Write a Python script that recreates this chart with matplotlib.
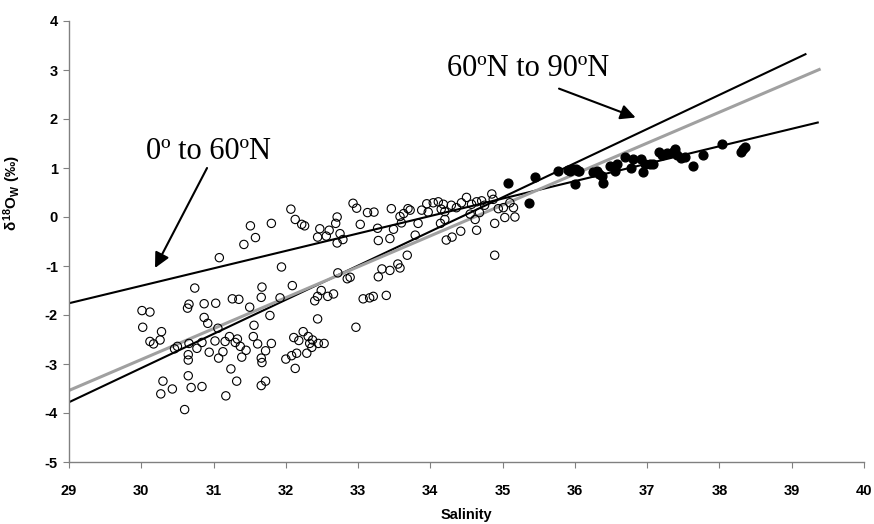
"""
Salinity vs d18O of seawater, 0-60N (open) and 60-90N (filled) with fit lines.
"""

import numpy as np
import matplotlib
matplotlib.use("Agg")
import matplotlib.pyplot as plt

# open circles, 0 to 60N
sal_low = [
    31.08, 31.42, 31.58, 31.51, 31.80, 32.07, 32.13, 32.22, 32.26, 32.47, 32.44, 32.56,
    31.94, 30.74, 31.67, 32.09, 32.49,
    30.01, 30.12, 30.02, 30.12, 30.17, 30.26, 30.28, 30.30, 30.27, 30.43, 30.60, 30.64,
    30.66, 30.87, 31.03, 31.26, 31.35, 31.66, 31.92, 31.50, 31.78, 30.87, 30.92, 31.06,
    30.46, 30.50, 30.66, 30.65, 30.65, 30.77, 30.84, 30.94, 31.02, 31.13, 31.07, 31.16,
    31.22, 31.30, 31.33, 31.37, 31.45, 31.39, 31.55, 31.56, 31.61, 31.80, 31.72, 31.66,
    31.67, 31.24, 30.65, 30.69, 30.84, 31.32, 31.17, 31.66, 31.72, 32.00, 32.08, 32.15,
    32.13, 32.11, 32.18, 32.24, 32.31, 32.33, 32.37, 32.29, 32.36, 32.45, 32.53, 32.40,
    32.44, 32.44, 32.58, 32.66, 32.72, 32.85, 32.89, 32.60,
    33.07, 33.16, 33.21, 33.39, 32.97,
    32.93, 32.98, 33.13, 33.22, 33.46, 32.71, 32.69, 32.75, 32.79, 32.71, 33.03, 33.27,
    33.28, 33.44, 33.49, 33.58, 33.63, 33.69, 33.72, 33.60, 33.83, 33.79, 33.68, 33.55,
    33.58, 33.44, 33.33, 33.28, 33.88, 33.95, 33.97, 34.04, 34.11, 34.18, 34.15, 34.20,
    34.14, 34.20, 34.30, 34.22, 34.42, 34.64, 34.29, 34.36, 34.43, 34.50, 34.57, 34.64,
    34.71, 34.75, 34.55, 34.62, 34.68, 34.85, 34.87, 34.94, 34.89, 35.03, 35.17, 34.89,
    35.01, 35.10, 35.15,
]
d18o_low = [
    -0.83, -0.56, -0.42, -0.18, -0.13, 0.16, -0.05, -0.15, -0.18, -0.24, -0.41, -0.39,
    -1.02, -1.45, -1.43, -1.40, -1.50,
    -1.91, -1.94, -2.25, -2.54, -2.59, -2.51, -2.34, -3.35, -3.61, -3.51, -3.93, -1.86,
    -1.78, -1.77, -1.76, -1.67, -1.68, -1.64, -1.65, -1.84, -2.01, -2.05, -2.17, -2.27,
    -2.69, -2.64, -2.58, -2.81, -2.92, -2.68, -2.56, -2.76, -2.53, -2.75, -2.88, -2.54,
    -2.44, -2.56, -2.49, -2.64, -2.72, -2.86, -2.44, -2.21, -2.59, -2.58, -2.73, -2.88,
    -2.97, -3.10, -3.24, -3.48, -3.46, -3.35, -3.65, -3.44, -3.35, -2.90, -2.83, -2.78,
    -3.09, -2.46, -2.52, -2.34, -2.44, -2.58, -2.51, -2.78, -2.66, -2.58, -2.58, -1.71,
    -1.62, -2.08, -1.62, -1.57, -1.14, -1.26, -1.23, -0.27,
    -1.67, -1.65, -1.62, -1.60, -2.25,
    0.28, 0.18, 0.09, 0.10, 0.17, 0.00, -0.13, -0.34, -0.46, -0.53, -0.15, -0.23,
    -0.48, -0.44, -0.25, 0.01, 0.07, 0.17, 0.14, -0.12, -0.13, -0.37, -0.78, -0.96,
    -1.04, -1.09, -1.06, -1.22, 0.14, 0.27, 0.10, 0.29, 0.31, 0.26, 0.16, 0.11,
    -0.13, -0.05, -0.41, -0.47, -0.29, -0.27, 0.24, 0.19, 0.29, 0.40, 0.26, 0.31,
    0.33, 0.24, 0.06, -0.05, 0.09, 0.47, 0.36, 0.17, -0.13, -0.01, 0.00, -0.78,
    0.19, 0.29, 0.19,
]

# filled circles, 60 to 90N
sal_high = [
    35.08, 35.37, 35.45, 35.77, 35.91, 35.93, 35.98, 36.02, 36.04, 36.06, 36.00, 36.25,
    36.30, 36.34, 36.37, 36.39, 36.48, 36.55, 36.55, 36.58, 36.69, 36.78, 36.80, 36.92,
    36.97, 36.94, 37.04, 37.08, 37.17, 37.20, 37.27, 37.36, 37.38, 37.41, 37.47, 37.52,
    37.63, 37.77, 38.03, 38.30, 38.33, 38.36,
]
d18o_high = [
    0.69, 0.29, 0.82, 0.93, 0.96, 0.93, 0.98, 0.98, 0.94, 0.94, 0.68, 0.91,
    0.94, 0.88, 0.84, 0.70, 1.05, 0.94, 1.02, 1.08, 1.22, 1.01, 1.18, 1.18,
    1.08, 0.91, 1.08, 1.09, 1.32, 1.27, 1.30, 1.32, 1.39, 1.27, 1.20, 1.23,
    1.05, 1.27, 1.50, 1.32, 1.39, 1.43,
]

# regression lines: slope, intercept, salinity range
fit_slope = [0.356, 0.697, 0.631]
fit_icept = [-12.084, -23.993, -21.839]
fit_xmax = [39.36, 39.19, 39.38]
fit_color = ["black", "black", "#a0a0a0"]
fit_width = [1.5, 1.5, 2.2]

plt.rcParams["font.family"] = ["Liberation Sans", "DejaVu Sans"]
plt.rcParams["font.weight"] = "bold"
plt.rcParams["axes.unicode_minus"] = False
plt.rcParams["mathtext.fontset"] = "custom"
plt.rcParams["mathtext.rm"] = "Liberation Sans:bold"
plt.rcParams["mathtext.it"] = "Liberation Sans:bold"
plt.rcParams["mathtext.bf"] = "Liberation Sans:bold"

fig = plt.figure(figsize=(8.74, 5.24), dpi=100)
ax = fig.add_axes([69 / 874, 62 / 524, 795 / 874, 441 / 524])

for slope, icept, xmax, col, lw in zip(fit_slope, fit_icept, fit_xmax, fit_color, fit_width):
    xs = np.array([29.0, xmax])
    ax.plot(xs, slope * xs + icept, color=col, lw=lw, zorder=2)

ax.scatter(sal_low, d18o_low, s=36, facecolors="none", edgecolors="black",
           linewidths=0.8, zorder=3)
ax.scatter(sal_high, d18o_high, s=40, color="black", zorder=3)

ax.set_xlim(29, 40)
ax.set_ylim(-5, 4)
ax.set_xticks(range(29, 41))
ax.set_yticks(range(-5, 5))
for side in ["top", "right"]:
    ax.spines[side].set_visible(False)
for side in ["left", "bottom"]:
    ax.spines[side].set_color("#808080")
    ax.spines[side].set_linewidth(1.0)
ax.tick_params(direction="out", length=4, color="#808080", labelsize=10.5, pad=4)
ax.tick_params(axis="x", pad=12)

ax.set_xlabel("Salinity", fontsize=10.5, fontweight="bold")
ax.xaxis.set_label_coords(0.5, -0.105)
ax.set_ylabel(r"$\delta^{18}$O$_W$ (‰)", fontsize=11, fontweight="bold")
ax.yaxis.set_label_coords(-0.058, 0.61)

serif = ["Liberation Serif", "DejaVu Serif"]
head = "-|>,head_length=0.9,head_width=0.45"
ax.annotate("", xy=(30.19, -1.04), xytext=(30.91, 1.0),
            arrowprops=dict(arrowstyle=head, color="black", lw=1.5,
                            shrinkA=0, shrinkB=0))
ax.text(30.93, 1.05, "0º to 60ºN", family=serif, fontsize=22,
        fontweight="normal", ha="center", va="bottom")
ax.annotate("", xy=(36.84, 2.03), xytext=(35.78, 2.62),
            arrowprops=dict(arrowstyle=head, color="black", lw=1.5,
                            shrinkA=0, shrinkB=0))
ax.text(35.35, 2.74, "60ºN to 90ºN", family=serif, fontsize=22,
        fontweight="normal", ha="center", va="bottom")

plt.savefig("out.png", dpi=100)
plt.close()
